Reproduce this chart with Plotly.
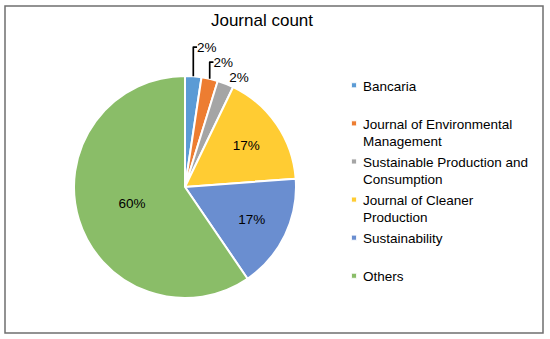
import plotly.graph_objects as go

journals = ["Bancaria<br> ", "Journal of Environmental<br>Management", "Sustainable Production and<br>Consumption",
            "Journal of Cleaner<br>Production", "Sustainability<br> ", "Others<br> "]
counts = [1, 1, 1, 7, 7, 25]
colors = ["#5B9BD5", "#ED7D31", "#A5A5A5", "#FFCC33", "#6A8ED0", "#8ABD68"]
text_pos = ["outside", "outside", "outside", "inside", "inside", "inside"]

W, H = 550, 339
FONT = "Liberation Sans, Arial"
fig = go.Figure(go.Pie(
    labels=journals, values=counts, sort=False, direction="clockwise", rotation=0,
    marker=dict(colors=colors, line=dict(color="white", width=2)),
    textinfo="percent", texttemplate="%{percent:.0%}",
    textposition=text_pos, insidetextorientation="horizontal",
    textfont=dict(family=FONT, size=13.5, color="#000000"),
    outsidetextfont=dict(family=FONT, size=13.5, color="#000000"),
    domain=dict(x=[74 / W, 296 / W], y=[1 - 298 / H, 1 - 76 / H]),
    hoverinfo="label+percent",
))
fig.update_layout(
    width=W, height=H, margin=dict(l=0, r=0, t=0, b=0),
    paper_bgcolor="white",
    font=dict(family=FONT, color="#000000"),
    title=dict(text="Journal count", x=262 / W, xanchor="center", y=1 - 20 / H, yanchor="middle",
               font=dict(size=17, color="#000000")),
    legend=dict(x=323 / W, xanchor="left", y=1 - 70 / H, yanchor="top", valign="top",
                font=dict(size=13.5, color="#000000"), itemwidth=30, tracegroupgap=0),
    shapes=[dict(type="rect", xref="paper", yref="paper",
                 x0=5 / W, x1=543 / W, y0=1 - 333 / H, y1=1 - 6 / H,
                 line=dict(color="#6F6F6F", width=1.5), fillcolor="rgba(0,0,0,0)")],
)
post = """
document.body.style.margin='0';
document.querySelectorAll('.legendpoints path').forEach(function(p){
  p.setAttribute('transform','translate(31,0) scale(0.42)');
});
"""
fig.write_html("out.html", post_script=post, config={"displayModeBar": False})
